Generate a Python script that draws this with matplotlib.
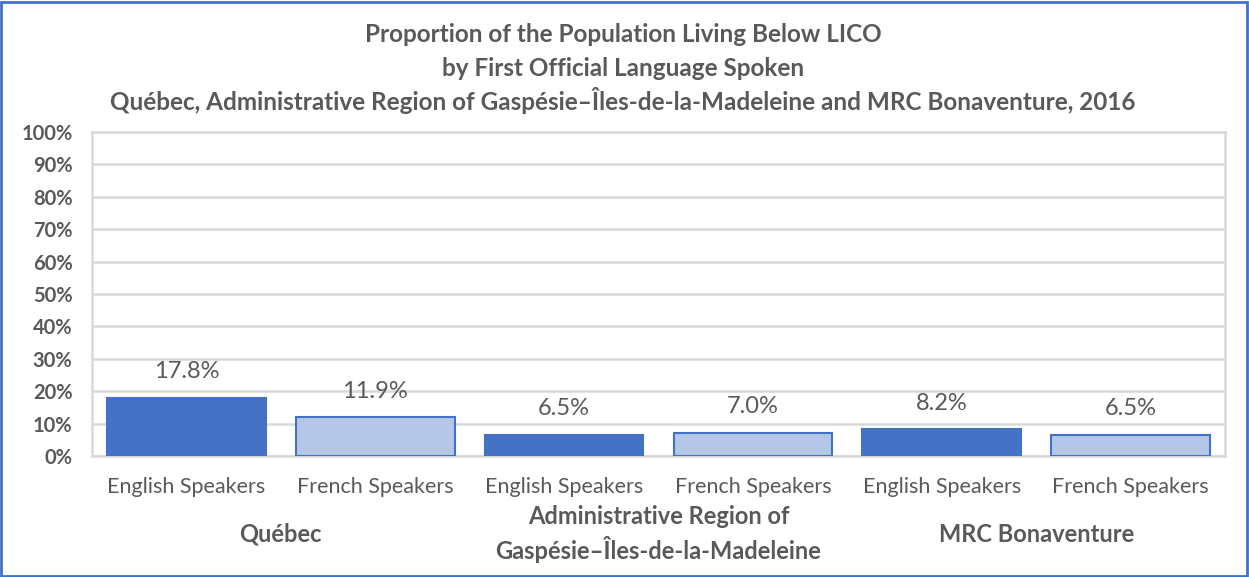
import matplotlib
matplotlib.use("Agg")
import matplotlib.pyplot as plt
from matplotlib.patches import Rectangle
import matplotlib.transforms as mtransforms

# ── Data ───────────────────────────────────────────────────
speakers = ["English Speakers", "French Speakers"] * 3
values = [17.8, 11.9, 6.5, 7.0, 8.2, 6.5]
groups = ["Québec",
          "Administrative Region of\nGaspésie–Îles-de-la-Madeleine",
          "MRC Bonaventure"]
title_lines = [
    "Proportion of the Population Living Below LICO",
    "by First Official Language Spoken",
    "Québec, Administrative Region of Gaspésie–Îles-de-la-Madeleine and MRC Bonaventure, 2016",
]

DARK = "#4472C4"
LIGHT = "#B4C7E7"
GRID = "#D9D9D9"
TXT = "#595959"

plt.rcParams["font.family"] = ["Lato", "DejaVu Sans"]

W, H = 1249, 577
fig = plt.figure(figsize=(W / 100, H / 100), dpi=100)

# plot area in pixels
x0, x1, y_top, y_bot = 92, 1225, 132, 456
ax = fig.add_axes([x0 / W, (H - y_bot) / H, (x1 - x0) / W, (y_bot - y_top) / H])

xs = list(range(len(values)))
colors = [DARK if i % 2 == 0 else LIGHT for i in xs]
ax.bar(xs, values, width=0.84, color=colors, edgecolor=DARK,
       linewidth=1.5, zorder=3)

for x, v in zip(xs, values):
    ax.annotate(f"{v:.1f}%", (x, v), xytext=(0, 19), textcoords="offset points",
                ha="center", va="center", fontsize=17, color=TXT)

ax.set_xlim(-0.5, len(values) - 0.5)
ax.set_ylim(0, 100)
ax.set_yticks(range(0, 101, 10))
ax.set_yticklabels([f"{t}%" for t in range(0, 101, 10)], fontsize=14.5,
                   fontweight="bold", color=TXT)
ax.tick_params(axis="y", length=0, pad=14)
ax.set_xticks(xs)
ax.set_xticklabels(speakers, fontsize=15.5, color=TXT)
ax.tick_params(axis="x", length=0, pad=15)

ax.grid(axis="y", color=GRID, linewidth=1.8, zorder=0)
for s in ax.spines.values():
    s.set_color(GRID)
    s.set_linewidth(1.8)

# group labels under the category ticks
trans = mtransforms.blended_transform_factory(ax.transData, fig.transFigure)
for i, g in enumerate(groups):
    ax.text(2 * i + 0.5, 1 - 534 / H, g, transform=trans, ha="center",
            va="center", fontsize=17, fontweight="bold", color=TXT,
            linespacing=1.35)

# title, three lines
for i, line in enumerate(title_lines):
    fig.text(623 / W, 1 - (35 + 33 * i) / H, line, ha="center", va="center",
             fontsize=17.5, fontweight="bold", color=TXT)

# outer blue frame
fig.patches.append(Rectangle((0.001, 0.002), 0.997, 0.995, transform=fig.transFigure,
                             fill=False, edgecolor=DARK, linewidth=2))

fig.savefig("out.png", dpi=100)
